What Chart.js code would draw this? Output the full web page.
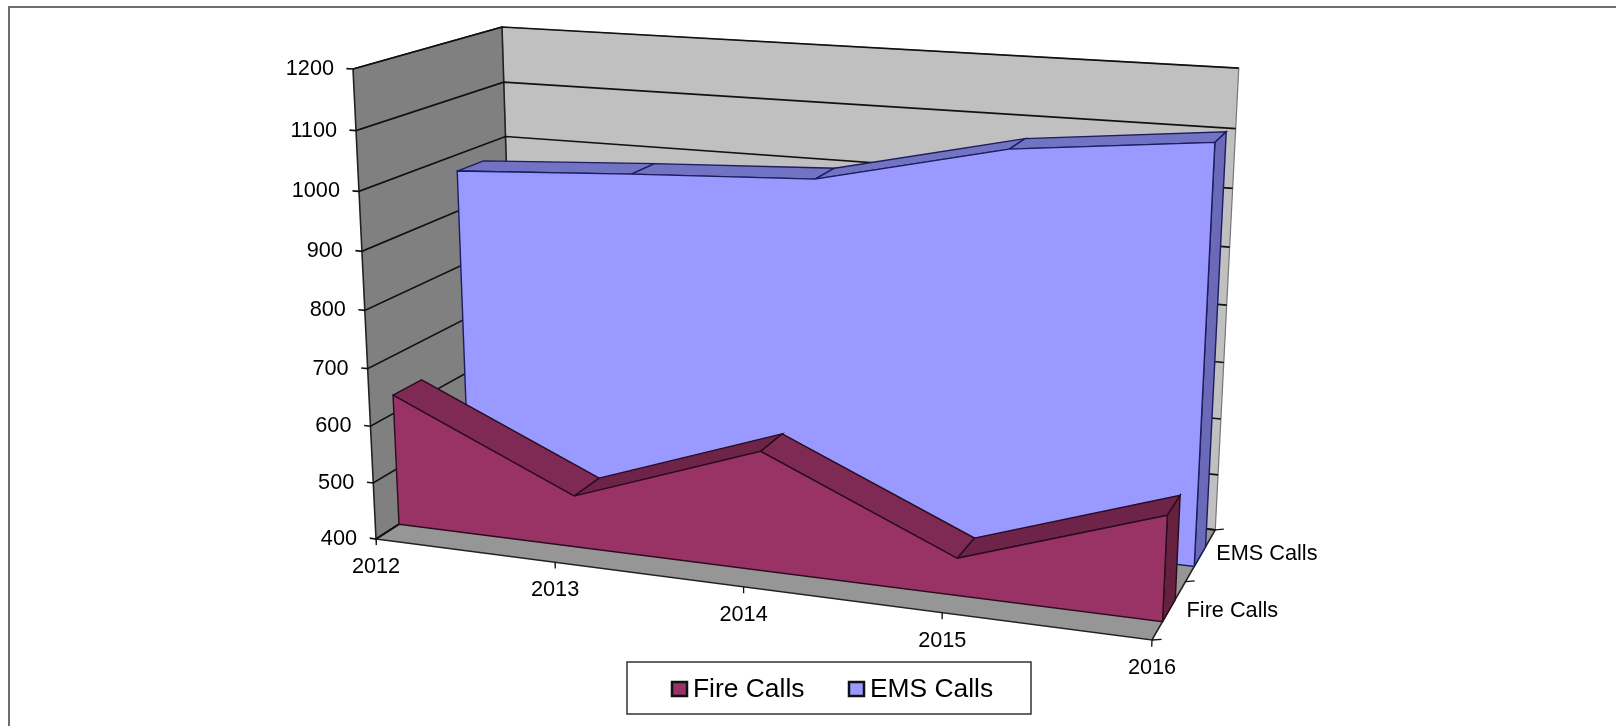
<!DOCTYPE html>
<html>
<head>
<meta charset="utf-8">
<style>
  html, body { margin: 0; padding: 0; background: #fff; }
  canvas { display: block; }
</style>
<script src="https://cdn.jsdelivr.net/npm/chart.js@4"></script>
</head>
<body>
<canvas id="areaChart" width="1616" height="726"></canvas>
<script>
const years = ['2012', '2013', '2014', '2015', '2016'];
const seriesNames = ['Fire Calls', 'EMS Calls'];
const fireCalls = [632, 490, 605, 463, 575];
const emsCalls = [971, 989, 1004, 1077, 1110];
const valueTicks = [400, 500, 600, 700, 800, 900, 1000, 1100, 1200];

// Excel style 3D box: where its corners land on the page, and how much each axis recedes
const box = {
  origin: [376, 539], xEnd: [1152, 640], depthEnd: [515.5, 449.4], valueEnd: [353, 69],
  wx: 0.9, wd: 1.118, wv: 0.947
};
const fireDepth = [0.15, 0.34];
const emsDepth = [0.64, 0.83];
const font = '"Liberation Sans", Arial, sans-serif';

// x: 0..1 along years, d: 0..1 into the box, value in calls
function project(x, d, value) {
  const v = (value - valueTicks[0]) / (valueTicks[valueTicks.length - 1] - valueTicks[0]);
  const w = 1 + x * (box.wx - 1) + d * (box.wd - 1) + v * (box.wv - 1);
  const axis = i => box.origin[i]
    + x * (box.wx * box.xEnd[i] - box.origin[i])
    + d * (box.wd * box.depthEnd[i] - box.origin[i])
    + v * (box.wv * box.valueEnd[i] - box.origin[i]);
  return { x: axis(0) / w, y: axis(1) / w };
}

const xAt = i => i / (years.length - 1);
const low = valueTicks[0];
const high = valueTicks[valueTicks.length - 1];
const datasets = [];

function shape(points, fill, border, width) {
  datasets.push({ data: points, backgroundColor: fill, borderColor: border, borderWidth: width, closed: !!fill });
}

function addWalls() {
  shape([project(0, 1, low), project(1, 1, low), project(1, 1, high), project(0, 1, high), project(0, 1, low)], '#c0c0c0', '#777777', 1.2);
  shape([project(0, 0, low), project(0, 1, low), project(0, 1, high), project(0, 0, high), project(0, 0, low)], '#808080', '#222222', 1.6);
  shape([project(0, 0, low), project(1, 0, low), project(1, 1, low), project(0, 1, low), project(0, 0, low)], '#969696', '#222222', 1.6);
  valueTicks.forEach(t => {
    shape([project(-0.009, 0, t), project(0, 0, t), project(0, 1, t), project(1, 1, t)], null, '#111111', 1.7);
  });
  // tick marks drop straight down from the front edge of the floor
  years.forEach((y, i) => {
    shape([project(xAt(i), 0, low), project(xAt(i), 0, low - 11)], null, '#111111', 1.3);
  });
  [0, 0.5, 1].forEach(d => {
    shape([project(1, d, low), project(1.011, d, low + 3)], null, '#111111', 1.3);
  });
}

function addArea(values, depth, front, top, side, edge) {
  const [d0, d1] = depth;
  const n = values.length - 1;
  for (let i = 0; i < n; i++) {
    shape([project(xAt(i), d0, values[i]), project(xAt(i + 1), d0, values[i + 1]),
      project(xAt(i + 1), d1, values[i + 1]), project(xAt(i), d1, values[i]),
      project(xAt(i), d0, values[i])], top[i], edge, 1.4);
  }
  shape([project(1, d0, low), project(1, d1, low), project(1, d1, values[n]), project(1, d0, values[n]), project(1, d0, low)], side, edge, 1.4);
  const outline = values.map((v, i) => project(xAt(i), d0, v));
  shape([project(0, d0, low), ...outline, project(1, d0, low), project(0, d0, low)], front, edge, 1.4);
}

addWalls();
addArea(emsCalls, emsDepth, '#9999ff', ['#7373c4', '#7373c4', '#7373c4', '#7373c4'], '#6a6ab8', '#1c1c60');
addArea(fireCalls, fireDepth, '#993366', ['#7f2a55', '#6e2449', '#7f2a55', '#6e2449'], '#66213f', '#2a0c1e');

// higher order is painted first, so the list above stays back to front
datasets.forEach((ds, i) => {
  ds.order = datasets.length - i;
  ds.showLine = true;
  ds.pointRadius = 0;
  ds.tension = 0;
  ds.fill = false;
});

const polygonFill = {
  id: 'polygonFill',
  beforeDatasetDraw(chart, args) {
    const ds = chart.data.datasets[args.index];
    if (!ds.closed) return;
    const { ctx } = chart;
    const pts = args.meta.data;
    ctx.save();
    ctx.beginPath();
    pts.forEach((p, i) => (i ? ctx.lineTo(p.x, p.y) : ctx.moveTo(p.x, p.y)));
    ctx.closePath();
    ctx.fillStyle = ds.backgroundColor;
    ctx.fill();
    ctx.restore();
  }
};

const textAndFrame = {
  id: 'textAndFrame',
  afterDraw(chart) {
    const { ctx } = chart;
    const sx = chart.scales.x;
    const sy = chart.scales.y;
    const px = p => ({ x: sx.getPixelForValue(p.x), y: sy.getPixelForValue(p.y) });
    ctx.save();

    // outer frame
    ctx.strokeStyle = '#6e6e6e';
    ctx.lineWidth = 2;
    ctx.beginPath();
    ctx.moveTo(9, 726);
    ctx.lineTo(9, 7);
    ctx.lineTo(1616, 7);
    ctx.stroke();

    ctx.fillStyle = '#000';
    ctx.textBaseline = 'middle';
    ctx.font = '21.7px ' + font;

    ctx.textAlign = 'right';
    valueTicks.forEach(t => {
      const p = px(project(0, 0, t));
      ctx.fillText(String(t), p.x - 19, p.y);
    });

    ctx.textAlign = 'center';
    years.forEach((y, i) => {
      const p = px(project(xAt(i), 0, low));
      ctx.fillText(y, p.x, p.y + 28);
    });

    ctx.textAlign = 'left';
    seriesNames.forEach((name, i) => {
      const depth = i === 0 ? 0.5 : 1;
      const p = px(project(1, depth, low));
      ctx.fillText(name, p.x + 1, p.y + (i === 0 ? 29 : 24));
    });

    // legend
    ctx.fillStyle = '#fff';
    ctx.strokeStyle = '#333';
    ctx.lineWidth = 1.5;
    ctx.fillRect(627, 662, 404, 52);
    ctx.strokeRect(627, 662, 404, 52);
    ctx.font = '26.4px ' + font;
    const legendX = [672, 849];
    const legendColors = ['#993366', '#9999ff'];
    seriesNames.forEach((name, i) => {
      ctx.fillStyle = legendColors[i];
      ctx.strokeStyle = '#111';
      ctx.lineWidth = 2.5;
      ctx.fillRect(legendX[i], 682, 15, 14);
      ctx.strokeRect(legendX[i], 682, 15, 14);
      ctx.fillStyle = '#000';
      ctx.fillText(name, legendX[i] + 21, 690);
    });
    ctx.restore();
  }
};

new Chart(document.getElementById('areaChart'), {
  type: 'scatter',
  data: { datasets },
  options: {
    responsive: false,
    animation: false,
    clip: false,
    layout: { padding: 0 },
    plugins: { legend: { display: false }, tooltip: { enabled: false } },
    scales: {
      x: { type: 'linear', min: 0, max: 1616, display: false },
      y: { type: 'linear', min: 0, max: 726, reverse: true, display: false }
    }
  },
  plugins: [polygonFill, textAndFrame]
});
</script>
</body>
</html>
